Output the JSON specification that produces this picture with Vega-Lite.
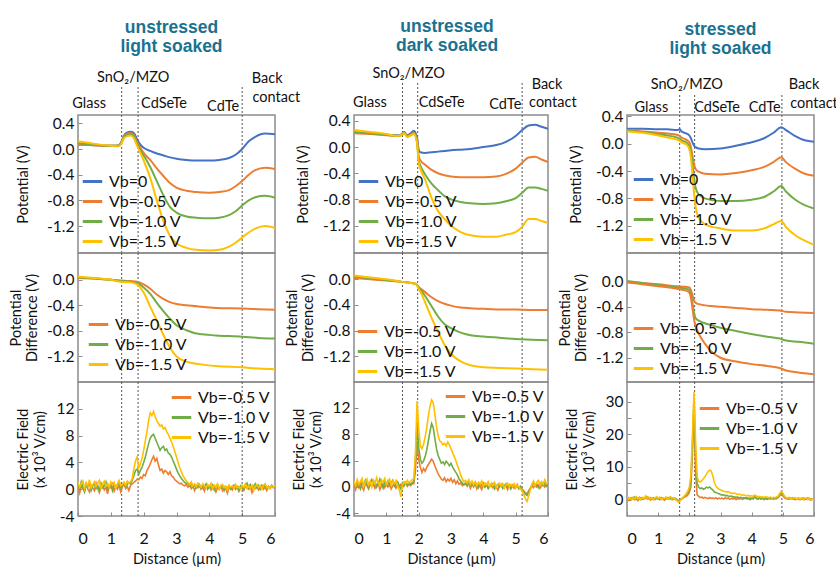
{
"$schema": "https://vega.github.io/schema/vega-lite/v6.json",
"background": "white",
"padding": {"left": 7, "top": 17, "right": 0, "bottom": 0},
"config": {
  "font": "Lato",
  "view": {"stroke": "#8c8c8c", "strokeWidth": 1.5},
  "axis": {"grid": false, "domain": false, "labelOverlap": false, "labelFont": "Lato", "labelFontSize": 15.5, "labelColor": "#111", "titleFont": "Lato", "titleFontSize": 14.5, "titleFontWeight": "normal", "titleColor": "#111", "tickColor": "#8c8c8c", "tickSize": -4, "labelPadding": 8},
  "axisX": {"labelFontSize": 16, "labelPadding": 18, "titlePadding": 6},
  "legend": {"symbolType": "stroke", "symbolStrokeWidth": 3, "symbolSize": 380, "labelFont": "Lato", "labelFontSize": 16, "labelColor": "#111", "rowPadding": 0, "padding": 0, "labelOffset": 5, "offset": 3},
  "title": {"font": "Liberation Sans", "fontSize": 17.5, "fontWeight": "bold", "color": "#1a7290", "lineHeight": 19, "frame": "group"},
  "text": {"font": "Lato", "fontSize": 14.5, "color": "#111"}
},
"columns": 3,
"bounds": "flush",
"align": "each",
"spacing": {"row": 0, "column": 79},
"resolve": {"scale": {"color": "independent"}, "legend": {"color": "independent"}},
"concat": [
 {
  "width": 197, "height": 138,
  "title": {"text": ["unstressed", "light soaked"], "dx": -5, "offset": 15},
  "encoding": {"x": {"field": "x", "type": "quantitative", "scale": {"domain": [0, 6], "nice": false, "zero": false}, "axis": null}},
  "layer": [
   {"data": {"name": "bounds1"}, "mark": {"type": "rule", "strokeDash": [2, 2], "color": "#555", "strokeWidth": 1},
    "encoding": {"y": {"datum": -1.62, "type": "quantitative", "scale": {"domain": [-1.62, 0.53], "nice": false, "zero": false}}, "y2": {"datum": 0.98}}},
   {"data": {"name": "A"}, "transform": [{"fold": ["a", "b", "c", "d"], "as": ["s", "v"]}],
    "mark": {"type": "line", "interpolate": "monotone", "strokeWidth": 2, "clip": true},
    "encoding": {
     "y": {"field": "v", "type": "quantitative", "scale": {"domain": [-1.62, 0.53], "nice": false, "zero": false}, "axis": {"title": "Potential (V)", "values": [0.4, 0, -0.4, -0.8, -1.2], "tickCount": 20, "labelOverlap": false, "labelExpr": "datum.value < 0 ? '-' + format(-datum.value, '.1f') : format(datum.value, '.1f')", "titlePadding": 16}},
     "color": {"field": "s", "type": "nominal", "scale": {"domain": ["a", "b", "c", "d"], "range": ["#4472C4", "#ED7D31", "#70AD47", "#FFC000"]}, "legend": {"title": null, "orient": "bottom-left", "offset": 3, "labelExpr": "datum.label == 'a' ? 'Vb=0' : datum.label == 'b' ? 'Vb=-0.5 V' : datum.label == 'c' ? 'Vb=-1.0 V' : 'Vb=-1.5 V'"}}
    }},
   {"data": {"values": [{}]}, "mark": {"type": "text", "align": "left", "baseline": "top", "fontSize": 15},
    "encoding": {"x": {"datum": 0.08}, "y": {"datum": 0.49, "scale": {"domain": [-1.62, 0.53], "nice": false, "zero": false}}, "text": {"value": "(a)"}}},
   {"data": {"name": "labels1"}, "mark": {"type": "text", "align": "center", "baseline": "alphabetic"},
    "encoding": {"y": {"field": "y", "type": "quantitative", "scale": {"domain": [-1.62, 0.53], "nice": false, "zero": false}}, "text": {"field": "label"}}},
   {"data": {"values": [{}]}, "mark": {"type": "rule", "color": "#4472C4", "strokeWidth": 1.2},
    "encoding": {"x": {"datum": 1.6}, "y": {"datum": 0.95, "scale": {"domain": [-1.62, 0.53], "nice": false, "zero": false}}, "y2": {"datum": 0.73}}},
   {"data": {"values": [{}]}, "mark": {"type": "point", "shape": "triangle-down", "filled": true, "color": "#4472C4", "size": 25, "opacity": 1},
    "encoding": {"x": {"datum": 1.6}, "y": {"datum": 0.72, "scale": {"domain": [-1.62, 0.53], "nice": false, "zero": false}}}}
  ]
 },
 {
  "width": 194, "height": 138,
  "title": {"text": ["unstressed", "dark soaked"], "dx": -4, "offset": 11},
  "encoding": {"x": {"field": "x", "type": "quantitative", "scale": {"domain": [0, 6], "nice": false, "zero": false}, "axis": null}},
  "layer": [
   {"data": {"name": "bounds2"}, "mark": {"type": "rule", "strokeDash": [2, 2], "color": "#555", "strokeWidth": 1},
    "encoding": {"y": {"datum": -1.62, "type": "quantitative", "scale": {"domain": [-1.62, 0.49], "nice": false, "zero": false}}, "y2": {"datum": 1.0}}},
   {"data": {"name": "D"}, "transform": [{"fold": ["a", "b", "c", "d"], "as": ["s", "v"]}],
    "mark": {"type": "line", "interpolate": "monotone", "strokeWidth": 2, "clip": true},
    "encoding": {
     "y": {"field": "v", "type": "quantitative", "scale": {"domain": [-1.62, 0.49], "nice": false, "zero": false}, "axis": {"title": "Potential (V)", "values": [0.4, 0, -0.4, -0.8, -1.2], "tickCount": 20, "labelOverlap": false, "labelExpr": "datum.value < 0 ? '-' + format(-datum.value, '.1f') : format(datum.value, '.1f')", "titlePadding": 12}},
     "color": {"field": "s", "type": "nominal", "scale": {"domain": ["a", "b", "c", "d"], "range": ["#4472C4", "#ED7D31", "#70AD47", "#FFC000"]}, "legend": {"title": null, "orient": "bottom-left", "offset": 3, "labelExpr": "datum.label == 'a' ? 'Vb=0' : datum.label == 'b' ? 'Vb=-0.5 V' : datum.label == 'c' ? 'Vb=-1.0 V' : 'Vb=-1.5 V'"}}
    }},
   {"data": {"values": [{}]}, "mark": {"type": "text", "align": "left", "baseline": "top", "fontSize": 15},
    "encoding": {"x": {"datum": 0.12}, "y": {"datum": 0.12, "scale": {"domain": [-1.62, 0.49], "nice": false, "zero": false}}, "text": {"value": "(d)"}}},
   {"data": {"name": "labels2"}, "mark": {"type": "text", "align": "center", "baseline": "alphabetic"},
    "encoding": {"y": {"field": "y", "type": "quantitative", "scale": {"domain": [-1.62, 0.49], "nice": false, "zero": false}}, "text": {"field": "label"}}},
   {"data": {"values": [{}]}, "mark": {"type": "rule", "color": "#4472C4", "strokeWidth": 1.2},
    "encoding": {"x": {"datum": 1.72}, "y": {"datum": 0.98, "scale": {"domain": [-1.62, 0.49], "nice": false, "zero": false}}, "y2": {"datum": 0.67}}},
   {"data": {"values": [{}]}, "mark": {"type": "point", "shape": "triangle-down", "filled": true, "color": "#4472C4", "size": 25, "opacity": 1},
    "encoding": {"x": {"datum": 1.72}, "y": {"datum": 0.66, "scale": {"domain": [-1.62, 0.49], "nice": false, "zero": false}}}}
  ]
 },
 {
  "width": 187, "height": 138,
  "title": {"text": ["stressed", "light soaked"], "offset": 20},
  "encoding": {"x": {"field": "x", "type": "quantitative", "scale": {"domain": [0, 6], "nice": false, "zero": false}, "axis": null}},
  "layer": [
   {"data": {"name": "bounds3"}, "mark": {"type": "rule", "strokeDash": [2, 2], "color": "#555", "strokeWidth": 1},
    "encoding": {"y": {"datum": -1.6, "type": "quantitative", "scale": {"domain": [-1.6, 0.42], "nice": false, "zero": false}}, "y2": {"datum": 0.73}}},
   {"data": {"name": "G"}, "transform": [{"fold": ["a", "b", "c", "d"], "as": ["s", "v"]}],
    "mark": {"type": "line", "interpolate": "monotone", "strokeWidth": 2, "clip": true},
    "encoding": {
     "y": {"field": "v", "type": "quantitative", "scale": {"domain": [-1.6, 0.42], "nice": false, "zero": false}, "axis": {"title": "Potential (V)", "values": [0.4, 0, -0.4, -0.8, -1.2], "tickCount": 20, "labelOverlap": false, "labelExpr": "datum.value < 0 ? '-' + format(-datum.value, '.1f') : format(datum.value, '.1f')", "titlePadding": 12}},
     "color": {"field": "s", "type": "nominal", "scale": {"domain": ["a", "b", "c", "d"], "range": ["#4472C4", "#ED7D31", "#70AD47", "#FFC000"]}, "legend": {"title": null, "orient": "bottom-left", "offset": 5, "labelExpr": "datum.label == 'a' ? 'Vb=0' : datum.label == 'b' ? 'Vb=-0.5 V' : datum.label == 'c' ? 'Vb=-1.0 V' : 'Vb=-1.5 V'"}}
    }},
   {"data": {"values": [{}]}, "mark": {"type": "text", "align": "left", "baseline": "top", "fontSize": 15},
    "encoding": {"x": {"datum": 0.25}, "y": {"datum": 0.05, "scale": {"domain": [-1.6, 0.42], "nice": false, "zero": false}}, "text": {"value": "(g)"}}},
   {"data": {"name": "labels3"}, "mark": {"type": "text", "align": "center", "baseline": "alphabetic"},
    "encoding": {"y": {"field": "y", "type": "quantitative", "scale": {"domain": [-1.6, 0.42], "nice": false, "zero": false}}, "text": {"field": "label"}}},
   {"data": {"values": [{}]}, "mark": {"type": "rule", "color": "#4472C4", "strokeWidth": 1.2},
    "encoding": {"x": {"datum": 1.87}, "y": {"datum": 0.71, "scale": {"domain": [-1.6, 0.42], "nice": false, "zero": false}}, "y2": {"datum": 0.5}}},
   {"data": {"values": [{}]}, "mark": {"type": "point", "shape": "triangle-down", "filled": true, "color": "#4472C4", "size": 25, "opacity": 1},
    "encoding": {"x": {"datum": 1.87}, "y": {"datum": 0.49, "scale": {"domain": [-1.6, 0.42], "nice": false, "zero": false}}}}
  ]
 },
 {
  "width": 197, "height": 129,
  "encoding": {"x": {"field": "x", "type": "quantitative", "scale": {"domain": [0, 6], "nice": false, "zero": false}, "axis": null}},
  "layer": [
   {"data": {"name": "bounds1"}, "mark": {"type": "rule", "strokeDash": [2, 2], "color": "#555", "strokeWidth": 1}},
   {"data": {"name": "B"}, "transform": [{"fold": ["b", "c", "d"], "as": ["s", "v"]}],
    "mark": {"type": "line", "interpolate": "monotone", "strokeWidth": 2, "clip": true},
    "encoding": {
     "y": {"field": "v", "type": "quantitative", "scale": {"domain": [-1.6, 0.42], "nice": false, "zero": false}, "axis": {"title": ["Potential", "Difference (V)"], "values": [0, -0.4, -0.8, -1.2], "tickCount": 20, "labelOverlap": false, "labelExpr": "datum.value < 0 ? '-' + format(-datum.value, '.1f') : format(datum.value, '.1f')", "titlePadding": 7}},
     "color": {"field": "s", "type": "nominal", "scale": {"domain": ["b", "c", "d"], "range": ["#ED7D31", "#70AD47", "#FFC000"]}, "legend": {"title": null, "orient": "bottom-left", "offset": 9, "labelExpr": "datum.label == 'a' ? 'Vb=0' : datum.label == 'b' ? 'Vb=-0.5 V' : datum.label == 'c' ? 'Vb=-1.0 V' : 'Vb=-1.5 V'"}}
    }},
   {"data": {"values": [{}]}, "mark": {"type": "text", "align": "left", "baseline": "top", "fontSize": 15},
    "encoding": {"x": {"datum": 0.08}, "y": {"datum": 0.33, "scale": {"domain": [-1.6, 0.42], "nice": false, "zero": false}}, "text": {"value": "(b)"}}}
  ]
 },
 {
  "width": 194, "height": 129,
  "encoding": {"x": {"field": "x", "type": "quantitative", "scale": {"domain": [0, 6], "nice": false, "zero": false}, "axis": null}},
  "layer": [
   {"data": {"name": "bounds2"}, "mark": {"type": "rule", "strokeDash": [2, 2], "color": "#555", "strokeWidth": 1}},
   {"data": {"name": "E"}, "transform": [{"fold": ["b", "c", "d"], "as": ["s", "v"]}],
    "mark": {"type": "line", "interpolate": "monotone", "strokeWidth": 2, "clip": true},
    "encoding": {
     "y": {"field": "v", "type": "quantitative", "scale": {"domain": [-1.6, 0.41], "nice": false, "zero": false}, "axis": {"title": ["Potential", "Difference (V)"], "values": [0, -0.4, -0.8, -1.2], "tickCount": 20, "labelOverlap": false, "labelExpr": "datum.value < 0 ? '-' + format(-datum.value, '.1f') : format(datum.value, '.1f')", "titlePadding": 7}},
     "color": {"field": "s", "type": "nominal", "scale": {"domain": ["b", "c", "d"], "range": ["#ED7D31", "#70AD47", "#FFC000"]}, "legend": {"title": null, "orient": "bottom-left", "offset": 2, "labelExpr": "datum.label == 'a' ? 'Vb=0' : datum.label == 'b' ? 'Vb=-0.5 V' : datum.label == 'c' ? 'Vb=-1.0 V' : 'Vb=-1.5 V'"}}
    }},
   {"data": {"values": [{}]}, "mark": {"type": "text", "align": "left", "baseline": "top", "fontSize": 15},
    "encoding": {"x": {"datum": 0.1}, "y": {"datum": 0.36, "scale": {"domain": [-1.6, 0.41], "nice": false, "zero": false}}, "text": {"value": "(e)"}}}
  ]
 },
 {
  "width": 187, "height": 129,
  "encoding": {"x": {"field": "x", "type": "quantitative", "scale": {"domain": [0, 6], "nice": false, "zero": false}, "axis": null}},
  "layer": [
   {"data": {"name": "bounds3"}, "mark": {"type": "rule", "strokeDash": [2, 2], "color": "#555", "strokeWidth": 1}},
   {"data": {"name": "H"}, "transform": [{"fold": ["b", "c"], "as": ["s", "v"]}],
    "mark": {"type": "line", "interpolate": "monotone", "strokeWidth": 2, "clip": true},
    "encoding": {
     "y": {"field": "v", "type": "quantitative", "scale": {"domain": [-1.58, 0.44], "nice": false, "zero": false}, "axis": {"title": ["Potential", "Difference (V)"], "values": [0, -0.4, -0.8, -1.2], "tickCount": 20, "labelOverlap": false, "labelExpr": "datum.value < 0 ? '-' + format(-datum.value, '.1f') : format(datum.value, '.1f')", "titlePadding": 7}},
     "color": {"field": "s", "type": "nominal", "scale": {"domain": ["b", "c", "d"], "range": ["#ED7D31", "#70AD47", "#FFC000"]}, "legend": {"title": null, "orient": "bottom-left", "offset": 5, "labelExpr": "datum.label == 'a' ? 'Vb=0' : datum.label == 'b' ? 'Vb=-0.5 V' : datum.label == 'c' ? 'Vb=-1.0 V' : 'Vb=-1.5 V'"}}
    }},
   {"data": {"name": "H"}, "mark": {"type": "line", "interpolate": "monotone", "strokeWidth": 2, "clip": true, "color": "#ED7D31"},
    "encoding": {"y": {"field": "d", "type": "quantitative", "scale": {"domain": [-1.58, 0.44], "nice": false, "zero": false}}}},
   {"data": {"values": [{}]}, "mark": {"type": "text", "align": "left", "baseline": "top", "fontSize": 15},
    "encoding": {"x": {"datum": 0.1}, "y": {"datum": 0.35, "scale": {"domain": [-1.58, 0.44], "nice": false, "zero": false}}, "text": {"value": "(h)"}}}
  ]
 },
 {
  "width": 197, "height": 134,
  "encoding": {"x": {"field": "x", "type": "quantitative", "scale": {"domain": [0, 6], "nice": false, "zero": false}, "axis": {"title": "Distance (µm)", "values": [0, 1, 2, 3, 4, 5, 6], "tickCount": 20, "labelOverlap": false, "format": "d"}}},
  "layer": [
   {"data": {"name": "bounds1"}, "mark": {"type": "rule", "strokeDash": [2, 2], "color": "#555", "strokeWidth": 1}},
   {"data": {"name": "C"}, "transform": [{"fold": ["b", "c", "d"], "as": ["s", "v"]}],
    "mark": {"type": "line", "strokeWidth": 1.6, "clip": true},
    "encoding": {
     "y": {"field": "v", "type": "quantitative", "scale": {"domain": [-4, 16], "nice": false, "zero": false}, "axis": {"title": ["Electric Field", "(x 10³ V/cm)"], "values": [-4, 0, 4, 8, 12], "tickCount": 20, "labelOverlap": false, "labelExpr": "datum.value < 0 ? '-' + format(-datum.value, 'd') : format(datum.value, 'd')", "titlePadding": 9}},
     "color": {"field": "s", "type": "nominal", "scale": {"domain": ["b", "c", "d"], "range": ["#ED7D31", "#70AD47", "#FFC000"]}, "legend": {"title": null, "orient": "top-right", "offset": 4, "labelExpr": "datum.label == 'a' ? 'Vb=0' : datum.label == 'b' ? 'Vb=-0.5 V' : datum.label == 'c' ? 'Vb=-1.0 V' : 'Vb=-1.5 V'"}}
    }},
   {"data": {"values": [{}]}, "mark": {"type": "text", "align": "left", "baseline": "top", "fontSize": 15},
    "encoding": {"x": {"datum": 0.08}, "y": {"datum": 15.2, "scale": {"domain": [-4, 16], "nice": false, "zero": false}}, "text": {"value": "(c)"}}}
  ]
 },
 {
  "width": 194, "height": 134,
  "encoding": {"x": {"field": "x", "type": "quantitative", "scale": {"domain": [0, 6], "nice": false, "zero": false}, "axis": {"title": "Distance (µm)", "values": [0, 1, 2, 3, 4, 5, 6], "tickCount": 20, "labelOverlap": false, "format": "d"}}},
  "layer": [
   {"data": {"name": "bounds2"}, "mark": {"type": "rule", "strokeDash": [2, 2], "color": "#555", "strokeWidth": 1}},
   {"data": {"name": "F"}, "transform": [{"fold": ["b", "c", "d"], "as": ["s", "v"]}],
    "mark": {"type": "line", "strokeWidth": 1.6, "clip": true},
    "encoding": {
     "y": {"field": "v", "type": "quantitative", "scale": {"domain": [-4.4, 15.9], "nice": false, "zero": false}, "axis": {"title": ["Electric Field", "(x 10³ V/cm)"], "values": [-4, 0, 4, 8, 12], "tickCount": 20, "labelOverlap": false, "labelExpr": "datum.value < 0 ? '-' + format(-datum.value, 'd') : format(datum.value, 'd')", "titlePadding": 9}},
     "color": {"field": "s", "type": "nominal", "scale": {"domain": ["b", "c", "d"], "range": ["#ED7D31", "#70AD47", "#FFC000"]}, "legend": {"title": null, "orient": "top-right", "offset": 3, "labelExpr": "datum.label == 'a' ? 'Vb=0' : datum.label == 'b' ? 'Vb=-0.5 V' : datum.label == 'c' ? 'Vb=-1.0 V' : 'Vb=-1.5 V'"}}
    }},
   {"data": {"values": [{}]}, "mark": {"type": "text", "align": "left", "baseline": "top", "fontSize": 15},
    "encoding": {"x": {"datum": 0.1}, "y": {"datum": 15.1, "scale": {"domain": [-4.4, 15.9], "nice": false, "zero": false}}, "text": {"value": "(f)"}}}
  ]
 },
 {
  "width": 187, "height": 134,
  "encoding": {"x": {"field": "x", "type": "quantitative", "scale": {"domain": [0, 6], "nice": false, "zero": false}, "axis": {"title": "Distance (µm)", "values": [0, 1, 2, 3, 4, 5, 6], "tickCount": 20, "labelOverlap": false, "format": "d"}}},
  "layer": [
   {"data": {"name": "bounds3"}, "mark": {"type": "rule", "strokeDash": [2, 2], "color": "#555", "strokeWidth": 1}},
   {"data": {"name": "I"}, "transform": [{"fold": ["b", "c", "d"], "as": ["s", "v"]}],
    "mark": {"type": "line", "strokeWidth": 1.6, "clip": true},
    "encoding": {
     "y": {"field": "v", "type": "quantitative", "scale": {"domain": [-5, 36], "nice": false, "zero": false}, "axis": {"title": ["Electric Field", "(x 10³ V/cm)"], "values": [0, 5, 10, 15, 20, 25, 30], "tickCount": 20, "labelOverlap": false, "labelExpr": "datum.value % 10 == 0 ? format(datum.value, 'd') : ''", "titlePadding": 9}},
     "color": {"field": "s", "type": "nominal", "scale": {"domain": ["b", "c", "d"], "range": ["#ED7D31", "#70AD47", "#FFC000"]}, "legend": {"title": null, "orient": "top-right", "offset": 15, "labelExpr": "datum.label == 'a' ? 'Vb=0' : datum.label == 'b' ? 'Vb=-0.5 V' : datum.label == 'c' ? 'Vb=-1.0 V' : 'Vb=-1.5 V'"}}
    }},
   {"data": {"values": [{}]}, "mark": {"type": "text", "align": "left", "baseline": "top", "fontSize": 15},
    "encoding": {"x": {"datum": 0.15}, "y": {"datum": 34.2, "scale": {"domain": [-5, 36], "nice": false, "zero": false}}, "text": {"value": "(i)"}}}
  ]
 }
],
"datasets": {
 "bounds1": [{"x": 1.33}, {"x": 1.83}, {"x": 5.0}],
 "bounds2": [{"x": 1.5}, {"x": 1.97}, {"x": 5.2}],
 "bounds3": [{"x": 1.69}, {"x": 2.17}, {"x": 4.97}],
 "labels1": [{"x": 0.34, "y": 0.64, "label": "Glass"}, {"x": 1.68, "y": 1.04, "label": "SnO₂/MZO"}, {"x": 2.62, "y": 0.64, "label": "CdSeTe"}, {"x": 4.42, "y": 0.59, "label": "CdTe"}, {"x": 5.76, "y": 1.03, "label": "Back"}, {"x": 6.04, "y": 0.73, "label": "contact"}],
 "labels2": [{"x": 0.49, "y": 0.61, "label": "Glass"}, {"x": 1.69, "y": 1.06, "label": "SnO₂/MZO"}, {"x": 2.71, "y": 0.61, "label": "CdSeTe"}, {"x": 4.68, "y": 0.58, "label": "CdTe"}, {"x": 5.97, "y": 0.89, "label": "Back"}, {"x": 6.15, "y": 0.61, "label": "contact"}],
 "labels3": [{"x": 0.78, "y": 0.46, "label": "Glass"}, {"x": 1.92, "y": 0.8, "label": "SnO₂/MZO"}, {"x": 2.89, "y": 0.46, "label": "CdSeTe"}, {"x": 4.42, "y": 0.46, "label": "CdTe"}, {"x": 5.68, "y": 0.8, "label": "Back"}, {"x": 6.0, "y": 0.52, "label": "contact"}],
 "A": [
  {"x": 0, "a": 0.07, "b": 0.07, "c": 0.09, "d": 0.12},
  {"x": 0.5, "a": 0.06, "b": 0.06, "c": 0.07, "d": 0.08},
  {"x": 1.0, "a": 0.05, "b": 0.05, "c": 0.05, "d": 0.05},
  {"x": 1.2, "a": 0.05, "b": 0.05, "c": 0.05, "d": 0.04},
  {"x": 1.3, "a": 0.09, "b": 0.08, "c": 0.08, "d": 0.07},
  {"x": 1.4, "a": 0.21, "b": 0.2, "c": 0.19, "d": 0.17},
  {"x": 1.5, "a": 0.26, "b": 0.24, "c": 0.22, "d": 0.2},
  {"x": 1.6, "a": 0.27, "b": 0.25, "c": 0.23, "d": 0.21},
  {"x": 1.7, "a": 0.25, "b": 0.22, "c": 0.2, "d": 0.17},
  {"x": 1.8, "a": 0.15, "b": 0.11, "c": 0.08, "d": 0.05},
  {"x": 1.9, "a": 0.07, "b": 0.02, "c": -0.02, "d": -0.06},
  {"x": 2.0, "a": 0.02, "b": -0.06, "c": -0.1, "d": -0.18},
  {"x": 2.2, "a": -0.03, "b": -0.17, "c": -0.28, "d": -0.45},
  {"x": 2.4, "a": -0.07, "b": -0.3, "c": -0.5, "d": -0.8},
  {"x": 2.6, "a": -0.1, "b": -0.42, "c": -0.72, "d": -1.12},
  {"x": 2.8, "a": -0.13, "b": -0.53, "c": -0.9, "d": -1.35},
  {"x": 3.0, "a": -0.15, "b": -0.6, "c": -0.99, "d": -1.47},
  {"x": 3.3, "a": -0.17, "b": -0.65, "c": -1.05, "d": -1.54},
  {"x": 3.6, "a": -0.18, "b": -0.67, "c": -1.07, "d": -1.57},
  {"x": 4.0, "a": -0.18, "b": -0.68, "c": -1.08, "d": -1.58},
  {"x": 4.3, "a": -0.17, "b": -0.67, "c": -1.07, "d": -1.57},
  {"x": 4.6, "a": -0.14, "b": -0.64, "c": -1.03, "d": -1.52},
  {"x": 4.8, "a": -0.09, "b": -0.58, "c": -0.97, "d": -1.46},
  {"x": 5.0, "a": 0.0, "b": -0.5, "c": -0.88, "d": -1.38},
  {"x": 5.2, "a": 0.12, "b": -0.4, "c": -0.8, "d": -1.3},
  {"x": 5.4, "a": 0.19, "b": -0.33, "c": -0.75, "d": -1.24},
  {"x": 5.7, "a": 0.24, "b": -0.29, "c": -0.73, "d": -1.2},
  {"x": 6.0, "a": 0.23, "b": -0.31, "c": -0.76, "d": -1.23}
 ],
 "D": [
  {"x": 0, "a": 0.22, "b": 0.21, "c": 0.23, "d": 0.26},
  {"x": 0.5, "a": 0.21, "b": 0.2, "c": 0.21, "d": 0.23},
  {"x": 1.0, "a": 0.19, "b": 0.18, "c": 0.19, "d": 0.2},
  {"x": 1.3, "a": 0.18, "b": 0.17, "c": 0.17, "d": 0.17},
  {"x": 1.45, "a": 0.19, "b": 0.18, "c": 0.18, "d": 0.18},
  {"x": 1.55, "a": 0.23, "b": 0.22, "c": 0.22, "d": 0.21},
  {"x": 1.65, "a": 0.18, "b": 0.17, "c": 0.16, "d": 0.15},
  {"x": 1.75, "a": 0.21, "b": 0.19, "c": 0.18, "d": 0.18},
  {"x": 1.85, "a": 0.25, "b": 0.22, "c": 0.21, "d": 0.2},
  {"x": 1.95, "a": 0.14, "b": 0.1, "c": 0.08, "d": 0.06},
  {"x": 2.0, "a": -0.04, "b": -0.14, "c": -0.2, "d": -0.24},
  {"x": 2.05, "a": -0.08, "b": -0.2, "c": -0.28, "d": -0.33},
  {"x": 2.2, "a": -0.09, "b": -0.27, "c": -0.42, "d": -0.5},
  {"x": 2.4, "a": -0.08, "b": -0.35, "c": -0.56, "d": -0.78},
  {"x": 2.6, "a": -0.07, "b": -0.4, "c": -0.66, "d": -0.98},
  {"x": 2.8, "a": -0.06, "b": -0.43, "c": -0.75, "d": -1.1},
  {"x": 3.0, "a": -0.05, "b": -0.45, "c": -0.8, "d": -1.2},
  {"x": 3.3, "a": -0.04, "b": -0.46, "c": -0.84, "d": -1.3},
  {"x": 3.6, "a": -0.03, "b": -0.46, "c": -0.86, "d": -1.35},
  {"x": 4.0, "a": 0.0, "b": -0.46, "c": -0.87, "d": -1.37},
  {"x": 4.4, "a": 0.03, "b": -0.45, "c": -0.86, "d": -1.37},
  {"x": 4.7, "a": 0.08, "b": -0.41, "c": -0.83, "d": -1.34},
  {"x": 5.0, "a": 0.17, "b": -0.33, "c": -0.78, "d": -1.3},
  {"x": 5.2, "a": 0.26, "b": -0.24, "c": -0.7, "d": -1.22},
  {"x": 5.4, "a": 0.33, "b": -0.16, "c": -0.62, "d": -1.1},
  {"x": 5.6, "a": 0.34, "b": -0.15, "c": -0.62, "d": -1.1},
  {"x": 5.8, "a": 0.31, "b": -0.19, "c": -0.64, "d": -1.13},
  {"x": 6.0, "a": 0.28, "b": -0.23, "c": -0.67, "d": -1.16}
 ],
 "G": [
  {"x": 0, "a": 0.22, "b": 0.2, "c": 0.19, "d": 0.18},
  {"x": 0.5, "a": 0.22, "b": 0.18, "c": 0.17, "d": 0.16},
  {"x": 1.0, "a": 0.21, "b": 0.16, "c": 0.14, "d": 0.12},
  {"x": 1.3, "a": 0.21, "b": 0.15, "c": 0.12, "d": 0.09},
  {"x": 1.6, "a": 0.2, "b": 0.13, "c": 0.09, "d": 0.06},
  {"x": 1.7, "a": 0.21, "b": 0.11, "c": 0.07, "d": 0.04},
  {"x": 1.75, "a": 0.18, "b": 0.09, "c": 0.05, "d": 0.02},
  {"x": 1.9, "a": 0.15, "b": 0.06, "c": 0.02, "d": -0.01},
  {"x": 2.0, "a": 0.12, "b": 0.02, "c": -0.04, "d": -0.08},
  {"x": 2.05, "a": 0.08, "b": -0.05, "c": -0.12, "d": -0.2},
  {"x": 2.1, "a": 0.02, "b": -0.18, "c": -0.3, "d": -0.45},
  {"x": 2.15, "a": -0.03, "b": -0.3, "c": -0.5, "d": -0.72},
  {"x": 2.2, "a": -0.05, "b": -0.37, "c": -0.64, "d": -0.92},
  {"x": 2.3, "a": -0.07, "b": -0.41, "c": -0.74, "d": -1.08},
  {"x": 2.5, "a": -0.08, "b": -0.44, "c": -0.8, "d": -1.18},
  {"x": 3.0, "a": -0.07, "b": -0.45, "c": -0.84, "d": -1.24},
  {"x": 3.5, "a": -0.03, "b": -0.43, "c": -0.84, "d": -1.27},
  {"x": 4.0, "a": 0.02, "b": -0.39, "c": -0.82, "d": -1.27},
  {"x": 4.4, "a": 0.08, "b": -0.34, "c": -0.78, "d": -1.24},
  {"x": 4.7, "a": 0.16, "b": -0.27, "c": -0.7, "d": -1.18},
  {"x": 4.95, "a": 0.24, "b": -0.2, "c": -0.62, "d": -1.13},
  {"x": 5.1, "a": 0.2, "b": -0.27, "c": -0.7, "d": -1.22},
  {"x": 5.4, "a": 0.11, "b": -0.37, "c": -0.82, "d": -1.34},
  {"x": 5.7, "a": 0.05, "b": -0.44, "c": -0.9, "d": -1.42},
  {"x": 6.0, "a": 0.03, "b": -0.47, "c": -0.95, "d": -1.48}
 ],
 "B": [
  {"x": 0, "b": 0.03, "c": 0.04, "d": 0.05},
  {"x": 0.5, "b": 0.02, "c": 0.02, "d": 0.03},
  {"x": 1.0, "b": 0.0, "c": 0.0, "d": 0.0},
  {"x": 1.3, "b": -0.01, "c": -0.02, "d": -0.03},
  {"x": 1.6, "b": -0.02, "c": -0.03, "d": -0.04},
  {"x": 1.8, "b": -0.03, "c": -0.05, "d": -0.07},
  {"x": 2.0, "b": -0.07, "c": -0.12, "d": -0.2},
  {"x": 2.2, "b": -0.14, "c": -0.22, "d": -0.42},
  {"x": 2.4, "b": -0.23, "c": -0.36, "d": -0.64},
  {"x": 2.6, "b": -0.3, "c": -0.49, "d": -0.86},
  {"x": 2.8, "b": -0.35, "c": -0.61, "d": -1.06},
  {"x": 3.0, "b": -0.38, "c": -0.71, "d": -1.2},
  {"x": 3.3, "b": -0.4, "c": -0.79, "d": -1.28},
  {"x": 3.7, "b": -0.42, "c": -0.85, "d": -1.32},
  {"x": 4.2, "b": -0.44, "c": -0.87, "d": -1.35},
  {"x": 5.0, "b": -0.45, "c": -0.89, "d": -1.37},
  {"x": 5.5, "b": -0.46, "c": -0.91, "d": -1.39},
  {"x": 6.0, "b": -0.47, "c": -0.92, "d": -1.4}
 ],
 "E": [
  {"x": 0, "b": 0.02, "c": 0.04, "d": 0.06},
  {"x": 0.5, "b": 0.0, "c": 0.02, "d": 0.03},
  {"x": 1.0, "b": -0.02, "c": -0.01, "d": 0.0},
  {"x": 1.5, "b": -0.04, "c": -0.04, "d": -0.04},
  {"x": 1.9, "b": -0.07, "c": -0.07, "d": -0.07},
  {"x": 1.95, "b": -0.09, "c": -0.09, "d": -0.1},
  {"x": 2.0, "b": -0.12, "c": -0.13, "d": -0.15},
  {"x": 2.1, "b": -0.16, "c": -0.19, "d": -0.24},
  {"x": 2.2, "b": -0.2, "c": -0.26, "d": -0.36},
  {"x": 2.4, "b": -0.28, "c": -0.42, "d": -0.6},
  {"x": 2.6, "b": -0.34, "c": -0.58, "d": -0.82},
  {"x": 2.8, "b": -0.38, "c": -0.7, "d": -1.02},
  {"x": 3.0, "b": -0.41, "c": -0.76, "d": -1.16},
  {"x": 3.3, "b": -0.44, "c": -0.83, "d": -1.28},
  {"x": 3.6, "b": -0.45, "c": -0.87, "d": -1.34},
  {"x": 4.0, "b": -0.46, "c": -0.89, "d": -1.37},
  {"x": 4.5, "b": -0.47, "c": -0.91, "d": -1.38},
  {"x": 5.0, "b": -0.47, "c": -0.93, "d": -1.39},
  {"x": 5.5, "b": -0.48, "c": -0.94, "d": -1.4},
  {"x": 6.0, "b": -0.48, "c": -0.95, "d": -1.41}
 ],
 "H": [
  {"x": 0, "b": -0.01, "c": 0.0, "d": -0.02},
  {"x": 0.5, "b": -0.03, "c": -0.03, "d": -0.05},
  {"x": 1.0, "b": -0.05, "c": -0.06, "d": -0.08},
  {"x": 1.6, "b": -0.08, "c": -0.1, "d": -0.12},
  {"x": 1.9, "b": -0.09, "c": -0.12, "d": -0.15},
  {"x": 2.0, "b": -0.1, "c": -0.14, "d": -0.18},
  {"x": 2.05, "b": -0.14, "c": -0.2, "d": -0.26},
  {"x": 2.1, "b": -0.22, "c": -0.34, "d": -0.42},
  {"x": 2.15, "b": -0.3, "c": -0.5, "d": -0.6},
  {"x": 2.2, "b": -0.34, "c": -0.58, "d": -0.7},
  {"x": 2.3, "b": -0.36, "c": -0.62, "d": -0.82},
  {"x": 2.5, "b": -0.38, "c": -0.66, "d": -0.98},
  {"x": 2.7, "b": -0.39, "c": -0.69, "d": -1.1},
  {"x": 3.0, "b": -0.4, "c": -0.73, "d": -1.2},
  {"x": 3.5, "b": -0.42, "c": -0.78, "d": -1.26},
  {"x": 4.0, "b": -0.44, "c": -0.83, "d": -1.3},
  {"x": 4.5, "b": -0.45, "c": -0.87, "d": -1.33},
  {"x": 4.9, "b": -0.46, "c": -0.9, "d": -1.36},
  {"x": 5.1, "b": -0.48, "c": -0.93, "d": -1.4},
  {"x": 5.5, "b": -0.49, "c": -0.95, "d": -1.43},
  {"x": 6.0, "b": -0.5, "c": -0.98, "d": -1.46}
 ],
 "C": [
  {"x": 0, "b": 0.2, "c": 0.6, "d": 1.0}, {"x": 0.05, "b": -0.6, "c": 0.0, "d": 0.3}, {"x": 0.1, "b": 0.5, "c": 1.1, "d": 0.8}, {"x": 0.15, "b": 0.1, "c": 0.3, "d": 1.2}, {"x": 0.2, "b": -0.3, "c": -0.4, "d": 0.1},
  {"x": 0.25, "b": 0.8, "c": 0.7, "d": 0.9}, {"x": 0.3, "b": 0.0, "c": 0.4, "d": 0.5}, {"x": 0.35, "b": -0.4, "c": 1.0, "d": 1.4}, {"x": 0.4, "b": 0.6, "c": -0.2, "d": 0.2}, {"x": 0.45, "b": 0.2, "c": 0.5, "d": 0.7},
  {"x": 0.5, "b": -0.2, "c": 0.8, "d": 1.1}, {"x": 0.55, "b": 0.9, "c": 0.1, "d": 0.4}, {"x": 0.6, "b": 0.1, "c": 0.6, "d": 0.9}, {"x": 0.65, "b": -0.5, "c": -0.3, "d": 1.3}, {"x": 0.7, "b": 0.4, "c": 0.9, "d": 0.0},
  {"x": 0.75, "b": 0.7, "c": 0.2, "d": 0.8}, {"x": 0.8, "b": -0.1, "c": 0.5, "d": 1.2}, {"x": 0.85, "b": 0.3, "c": 1.1, "d": 0.5}, {"x": 0.9, "b": -0.7, "c": 0.0, "d": 0.9}, {"x": 0.95, "b": 0.5, "c": 0.4, "d": 0.3},
  {"x": 1.0, "b": 0.2, "c": 0.7, "d": 1.1}, {"x": 1.05, "b": 0.8, "c": -0.2, "d": 0.6}, {"x": 1.1, "b": -0.3, "c": 0.8, "d": 1.0}, {"x": 1.15, "b": 0.4, "c": 0.3, "d": 0.2}, {"x": 1.2, "b": 0.0, "c": 0.6, "d": 0.8},
  {"x": 1.25, "b": 0.6, "c": 1.0, "d": 1.3}, {"x": 1.3, "b": -0.4, "c": 0.2, "d": 0.5}, {"x": 1.35, "b": 0.3, "c": 0.5, "d": 0.7}, {"x": 1.4, "b": 0.9, "c": 0.9, "d": 1.0}, {"x": 1.45, "b": 0.1, "c": 0.4, "d": 0.6},
  {"x": 1.5, "b": 0.4, "c": 0.7, "d": 1.2}, {"x": 1.55, "b": -0.2, "c": 1.0, "d": 0.9}, {"x": 1.6, "b": 0.6, "c": 0.8, "d": 1.1}, {"x": 1.65, "b": 0.8, "c": 1.3, "d": 1.6}, {"x": 1.7, "b": 1.0, "c": 2.0, "d": 3.0},
  {"x": 1.75, "b": 1.2, "c": 2.8, "d": 4.2}, {"x": 1.8, "b": 1.5, "c": 3.0, "d": 4.8}, {"x": 1.85, "b": 1.4, "c": 2.2, "d": 3.2}, {"x": 1.9, "b": 1.8, "c": 2.8, "d": 3.8}, {"x": 1.95, "b": 1.6, "c": 3.3, "d": 4.6},
  {"x": 2.0, "b": 2.2, "c": 4.0, "d": 5.8}, {"x": 2.05, "b": 2.0, "c": 4.8, "d": 7.2}, {"x": 2.1, "b": 2.8, "c": 5.8, "d": 8.6}, {"x": 2.15, "b": 3.2, "c": 6.8, "d": 10.2}, {"x": 2.2, "b": 3.8, "c": 7.6, "d": 11.4},
  {"x": 2.25, "b": 4.4, "c": 8.0, "d": 11.0}, {"x": 2.3, "b": 4.9, "c": 8.2, "d": 11.6}, {"x": 2.35, "b": 4.2, "c": 7.6, "d": 10.8}, {"x": 2.4, "b": 4.6, "c": 7.0, "d": 10.2}, {"x": 2.45, "b": 3.6, "c": 6.4, "d": 9.8},
  {"x": 2.5, "b": 2.8, "c": 5.8, "d": 9.4}, {"x": 2.55, "b": 3.0, "c": 6.2, "d": 9.6}, {"x": 2.6, "b": 2.4, "c": 6.4, "d": 9.0}, {"x": 2.65, "b": 2.8, "c": 5.8, "d": 9.2}, {"x": 2.7, "b": 2.6, "c": 6.0, "d": 8.6},
  {"x": 2.75, "b": 2.2, "c": 5.4, "d": 8.2}, {"x": 2.8, "b": 2.6, "c": 5.2, "d": 7.6}, {"x": 2.85, "b": 2.0, "c": 4.8, "d": 7.0}, {"x": 2.9, "b": 1.8, "c": 4.2, "d": 6.4}, {"x": 2.95, "b": 1.4, "c": 3.6, "d": 5.6},
  {"x": 3.0, "b": 1.2, "c": 3.0, "d": 4.8}, {"x": 3.05, "b": 1.0, "c": 2.4, "d": 4.0}, {"x": 3.1, "b": 0.8, "c": 2.0, "d": 3.2}, {"x": 3.15, "b": 0.9, "c": 1.6, "d": 2.6}, {"x": 3.2, "b": 0.6, "c": 1.3, "d": 2.0},
  {"x": 3.25, "b": 0.5, "c": 1.0, "d": 1.6}, {"x": 3.3, "b": 0.7, "c": 0.9, "d": 1.2}, {"x": 3.35, "b": 0.3, "c": 0.8, "d": 1.0}, {"x": 3.4, "b": 0.6, "c": 0.5, "d": 0.7}, {"x": 3.45, "b": 0.1, "c": 0.9, "d": 1.1},
  {"x": 3.5, "b": 0.5, "c": 0.3, "d": 0.5}, {"x": 3.55, "b": -0.2, "c": 0.6, "d": 0.8}, {"x": 3.6, "b": 0.4, "c": 0.2, "d": 0.4}, {"x": 3.65, "b": 0.2, "c": 0.7, "d": 0.9}, {"x": 3.7, "b": 0.7, "c": 0.4, "d": 0.6},
  {"x": 3.75, "b": 0.0, "c": 0.1, "d": 0.3}, {"x": 3.8, "b": 0.3, "c": 0.6, "d": 0.8}, {"x": 3.85, "b": -0.3, "c": 0.3, "d": 0.5}, {"x": 3.9, "b": 0.5, "c": 0.8, "d": 0.2}, {"x": 3.95, "b": 0.1, "c": 0.0, "d": 0.7},
  {"x": 4.0, "b": 0.4, "c": 0.5, "d": 0.4}, {"x": 4.05, "b": -0.1, "c": 0.2, "d": 0.9}, {"x": 4.1, "b": 0.6, "c": 0.6, "d": 0.1}, {"x": 4.15, "b": 0.2, "c": -0.1, "d": 0.6}, {"x": 4.2, "b": -0.4, "c": 0.4, "d": 0.3},
  {"x": 4.25, "b": 0.3, "c": 0.7, "d": 0.8}, {"x": 4.3, "b": 0.0, "c": 0.1, "d": 0.0}, {"x": 4.35, "b": 0.5, "c": 0.3, "d": 0.5}, {"x": 4.4, "b": -0.2, "c": 0.6, "d": 0.7}, {"x": 4.45, "b": 0.4, "c": -0.2, "d": 0.2},
  {"x": 4.5, "b": 0.1, "c": 0.4, "d": 0.4}, {"x": 4.55, "b": -0.6, "c": 0.2, "d": -0.1}, {"x": 4.6, "b": 0.3, "c": 0.5, "d": 0.6}, {"x": 4.65, "b": 0.2, "c": 0.0, "d": 0.3}, {"x": 4.7, "b": -0.1, "c": 0.3, "d": 0.5},
  {"x": 4.75, "b": 0.5, "c": 0.6, "d": 0.1}, {"x": 4.8, "b": 0.0, "c": 0.1, "d": 0.7}, {"x": 4.85, "b": 0.3, "c": 0.4, "d": 0.2}, {"x": 4.9, "b": -0.3, "c": -0.2, "d": 0.4}, {"x": 4.95, "b": 0.4, "c": 0.5, "d": 0.0},
  {"x": 5.0, "b": 0.1, "c": 0.2, "d": 0.6}, {"x": 5.05, "b": -0.2, "c": 0.0, "d": 0.3}, {"x": 5.1, "b": 0.6, "c": 0.6, "d": 0.8}, {"x": 5.15, "b": 0.2, "c": 0.9, "d": 0.1}, {"x": 5.2, "b": 0.0, "c": 0.3, "d": 0.5},
  {"x": 5.25, "b": 0.4, "c": 0.7, "d": 0.2}, {"x": 5.3, "b": -0.5, "c": 0.1, "d": 0.6}, {"x": 5.35, "b": 0.3, "c": 0.4, "d": -0.2}, {"x": 5.4, "b": 0.1, "c": 0.8, "d": 0.4}, {"x": 5.45, "b": 0.5, "c": 0.2, "d": 0.7},
  {"x": 5.5, "b": -0.1, "c": 0.6, "d": 0.3}, {"x": 5.55, "b": 0.2, "c": 0.0, "d": 0.5}, {"x": 5.6, "b": 0.6, "c": 0.5, "d": 0.0}, {"x": 5.65, "b": 0.0, "c": 0.3, "d": 0.6}, {"x": 5.7, "b": 0.3, "c": 0.7, "d": 0.8},
  {"x": 5.75, "b": -0.2, "c": 0.1, "d": 0.2}, {"x": 5.8, "b": 0.4, "c": 0.4, "d": 0.4}, {"x": 5.85, "b": 0.1, "c": 0.2, "d": 0.1}, {"x": 5.9, "b": 0.5, "c": 0.6, "d": 0.5}, {"x": 5.95, "b": 0.2, "c": 0.3, "d": 0.3},
  {"x": 6.0, "b": 0.3, "c": 0.5, "d": 0.6}
 ],
 "F": [
  {"x": 0, "b": 0.3, "c": 0.5, "d": 0.9}, {"x": 0.05, "b": -0.4, "c": 0.1, "d": 0.2}, {"x": 0.1, "b": 0.4, "c": 0.9, "d": 1.1}, {"x": 0.15, "b": -0.1, "c": 0.3, "d": 0.4}, {"x": 0.2, "b": 0.6, "c": -0.3, "d": 0.8},
  {"x": 0.25, "b": 0.0, "c": 0.7, "d": 1.3}, {"x": 0.3, "b": -0.5, "c": 0.2, "d": 0.1}, {"x": 0.35, "b": 0.5, "c": 1.0, "d": 0.7}, {"x": 0.4, "b": 0.2, "c": 0.4, "d": 1.2}, {"x": 0.45, "b": -0.3, "c": -0.1, "d": 0.3},
  {"x": 0.5, "b": 0.4, "c": 0.6, "d": 0.9}, {"x": 0.55, "b": 0.1, "c": 1.1, "d": 0.0}, {"x": 0.6, "b": 0.7, "c": 0.3, "d": 1.0}, {"x": 0.65, "b": -0.2, "c": 0.8, "d": 0.5}, {"x": 0.7, "b": 0.3, "c": 0.0, "d": 1.4},
  {"x": 0.75, "b": 0.6, "c": 0.5, "d": 0.6}, {"x": 0.8, "b": -0.4, "c": 1.2, "d": 0.2}, {"x": 0.85, "b": 0.2, "c": 0.4, "d": 1.1}, {"x": 0.9, "b": 0.5, "c": -0.2, "d": 0.7}, {"x": 0.95, "b": -0.1, "c": 0.7, "d": 1.3},
  {"x": 1.0, "b": 0.4, "c": 0.3, "d": 0.4}, {"x": 1.05, "b": 0.0, "c": 0.9, "d": 0.8}, {"x": 1.1, "b": 0.6, "c": 0.2, "d": 1.2}, {"x": 1.15, "b": -0.3, "c": 0.6, "d": 0.3}, {"x": 1.2, "b": 0.2, "c": 1.0, "d": 0.9},
  {"x": 1.25, "b": 0.5, "c": 0.1, "d": 0.5}, {"x": 1.3, "b": -0.2, "c": 0.5, "d": 1.0}, {"x": 1.35, "b": 0.3, "c": 0.8, "d": 0.2}, {"x": 1.4, "b": 0.0, "c": 0.2, "d": -0.4}, {"x": 1.45, "b": 0.4, "c": -0.3, "d": -1.5},
  {"x": 1.5, "b": -0.1, "c": 0.6, "d": 0.3}, {"x": 1.55, "b": 0.3, "c": 0.2, "d": 0.8}, {"x": 1.6, "b": 0.5, "c": 0.7, "d": 0.5}, {"x": 1.65, "b": 0.1, "c": 0.3, "d": 1.0}, {"x": 1.7, "b": 0.4, "c": 0.6, "d": 0.6},
  {"x": 1.75, "b": 0.2, "c": 0.4, "d": 0.9}, {"x": 1.8, "b": 0.5, "c": 0.7, "d": 1.1}, {"x": 1.85, "b": 0.5, "c": 0.8, "d": 1.2}, {"x": 1.9, "b": 2.5, "c": 4.0, "d": 5.0}, {"x": 1.95, "b": 7.0, "c": 10.0, "d": 13.0},
  {"x": 2.0, "b": 4.2, "c": 6.0, "d": 9.0}, {"x": 2.05, "b": 3.0, "c": 4.2, "d": 6.2}, {"x": 2.1, "b": 2.2, "c": 3.6, "d": 5.8}, {"x": 2.15, "b": 2.8, "c": 3.9, "d": 6.4}, {"x": 2.2, "b": 2.4, "c": 4.6, "d": 7.6},
  {"x": 2.25, "b": 3.0, "c": 5.6, "d": 9.0}, {"x": 2.3, "b": 3.4, "c": 7.0, "d": 10.8}, {"x": 2.35, "b": 3.8, "c": 8.4, "d": 12.2}, {"x": 2.4, "b": 4.2, "c": 9.6, "d": 13.2}, {"x": 2.45, "b": 3.9, "c": 9.0, "d": 12.8},
  {"x": 2.5, "b": 3.2, "c": 7.4, "d": 11.0}, {"x": 2.55, "b": 2.6, "c": 5.8, "d": 9.2}, {"x": 2.6, "b": 2.0, "c": 4.8, "d": 7.8}, {"x": 2.65, "b": 1.6, "c": 4.2, "d": 7.0}, {"x": 2.7, "b": 1.2, "c": 3.6, "d": 6.8},
  {"x": 2.75, "b": 1.0, "c": 3.8, "d": 6.4}, {"x": 2.8, "b": 1.4, "c": 3.4, "d": 6.6}, {"x": 2.85, "b": 0.8, "c": 3.9, "d": 6.2}, {"x": 2.9, "b": 1.2, "c": 3.6, "d": 6.8}, {"x": 2.95, "b": 0.9, "c": 3.2, "d": 6.4},
  {"x": 3.0, "b": 1.3, "c": 3.6, "d": 5.8}, {"x": 3.05, "b": 0.7, "c": 3.0, "d": 5.2}, {"x": 3.1, "b": 1.1, "c": 2.6, "d": 4.6}, {"x": 3.15, "b": 0.5, "c": 2.2, "d": 4.0}, {"x": 3.2, "b": 0.9, "c": 1.8, "d": 3.2},
  {"x": 3.25, "b": 0.4, "c": 1.2, "d": 2.6}, {"x": 3.3, "b": 0.6, "c": 0.9, "d": 1.8}, {"x": 3.35, "b": 0.2, "c": 0.6, "d": 1.2}, {"x": 3.4, "b": 0.4, "c": 0.3, "d": 0.8}, {"x": 3.45, "b": 0.5, "c": 0.6, "d": 1.0},
  {"x": 3.5, "b": 0.1, "c": 0.3, "d": 0.6}, {"x": 3.55, "b": 0.6, "c": 0.8, "d": 1.1}, {"x": 3.6, "b": -0.2, "c": 0.2, "d": 0.4}, {"x": 3.65, "b": 0.4, "c": 0.6, "d": 0.9}, {"x": 3.7, "b": 0.0, "c": 0.1, "d": 0.3},
  {"x": 3.75, "b": 0.5, "c": 0.7, "d": 0.8}, {"x": 3.8, "b": -0.3, "c": 0.3, "d": 0.2}, {"x": 3.85, "b": 0.3, "c": -0.1, "d": 0.7}, {"x": 3.9, "b": 0.1, "c": 0.5, "d": 0.4}, {"x": 3.95, "b": -0.4, "c": 0.2, "d": 0.9},
  {"x": 4.0, "b": 0.4, "c": 0.6, "d": 0.1}, {"x": 4.05, "b": 0.0, "c": 0.0, "d": 0.6}, {"x": 4.1, "b": 0.3, "c": 0.4, "d": 0.3}, {"x": 4.15, "b": -0.2, "c": -0.2, "d": 0.8}, {"x": 4.2, "b": 0.2, "c": 0.3, "d": 0.0},
  {"x": 4.25, "b": 0.5, "c": 0.1, "d": 0.5}, {"x": 4.3, "b": -0.1, "c": 0.5, "d": 0.2}, {"x": 4.35, "b": 0.3, "c": -0.3, "d": 0.7}, {"x": 4.4, "b": 0.0, "c": 0.2, "d": -0.1}, {"x": 4.45, "b": -0.5, "c": 0.4, "d": 0.4},
  {"x": 4.5, "b": 0.2, "c": 0.0, "d": 0.6}, {"x": 4.55, "b": 0.4, "c": 0.3, "d": 0.1}, {"x": 4.6, "b": -0.2, "c": -0.2, "d": 0.5}, {"x": 4.65, "b": 0.1, "c": 0.2, "d": -0.2}, {"x": 4.7, "b": 0.3, "c": 0.5, "d": 0.3},
  {"x": 4.75, "b": -0.4, "c": 0.0, "d": 0.6}, {"x": 4.8, "b": 0.2, "c": 0.3, "d": 0.0}, {"x": 4.85, "b": 0.0, "c": -0.3, "d": 0.4}, {"x": 4.9, "b": 0.3, "c": 0.2, "d": 0.1}, {"x": 4.95, "b": -0.2, "c": 0.4, "d": 0.5},
  {"x": 5.0, "b": 0.1, "c": -0.1, "d": -0.2}, {"x": 5.05, "b": 0.4, "c": 0.2, "d": 0.3}, {"x": 5.1, "b": -0.3, "c": -0.2, "d": 0.0}, {"x": 5.15, "b": 0.0, "c": 0.1, "d": -0.3}, {"x": 5.2, "b": -0.4, "c": -0.4, "d": -0.6},
  {"x": 5.25, "b": -0.6, "c": -0.7, "d": -1.2}, {"x": 5.3, "b": -0.9, "c": -1.1, "d": -1.8}, {"x": 5.35, "b": -1.0, "c": -1.3, "d": -2.2}, {"x": 5.4, "b": -0.6, "c": -0.8, "d": -1.4}, {"x": 5.45, "b": -0.2, "c": -0.3, "d": -0.5},
  {"x": 5.5, "b": 0.2, "c": 0.3, "d": 0.4}, {"x": 5.55, "b": -0.1, "c": 0.6, "d": 0.9}, {"x": 5.6, "b": 0.4, "c": 0.1, "d": 0.2}, {"x": 5.65, "b": 0.0, "c": 0.5, "d": 0.7}, {"x": 5.7, "b": 0.3, "c": -0.1, "d": 1.0},
  {"x": 5.75, "b": -0.2, "c": 0.4, "d": 0.3}, {"x": 5.8, "b": 0.2, "c": 0.7, "d": 0.8}, {"x": 5.85, "b": 0.5, "c": 0.2, "d": 0.4}, {"x": 5.9, "b": 0.0, "c": 0.6, "d": 1.1}, {"x": 5.95, "b": 0.3, "c": 0.1, "d": 0.5},
  {"x": 6.0, "b": 0.1, "c": 0.4, "d": 0.7}
 ],
 "I": [
  {"x": 0, "b": 0.5, "c": 0.3, "d": 0.8}, {"x": 0.05, "b": -0.2, "c": 0.6, "d": 0.2}, {"x": 0.1, "b": 0.4, "c": 0.0, "d": 0.6}, {"x": 0.15, "b": 0.1, "c": 0.5, "d": -0.1}, {"x": 0.2, "b": 0.7, "c": 0.2, "d": 0.5},
  {"x": 0.25, "b": 0.0, "c": 0.8, "d": 0.3}, {"x": 0.3, "b": 0.5, "c": 0.1, "d": 0.9}, {"x": 0.35, "b": -0.3, "c": 0.4, "d": 0.2}, {"x": 0.4, "b": 0.3, "c": 0.7, "d": 0.6}, {"x": 0.45, "b": 0.6, "c": 0.0, "d": 0.1},
  {"x": 0.5, "b": 0.1, "c": 0.5, "d": 0.7}, {"x": 0.55, "b": 0.4, "c": 0.2, "d": 0.3}, {"x": 0.6, "b": 0.9, "c": 0.6, "d": 1.2}, {"x": 0.65, "b": 0.2, "c": 0.9, "d": 0.5}, {"x": 0.7, "b": 0.5, "c": 0.3, "d": 0.8},
  {"x": 0.75, "b": -0.1, "c": 0.6, "d": 0.2}, {"x": 0.8, "b": 0.3, "c": 0.1, "d": 0.6}, {"x": 0.85, "b": 0.6, "c": 0.5, "d": 0.0}, {"x": 0.9, "b": 0.0, "c": 0.2, "d": 0.5}, {"x": 0.95, "b": 0.4, "c": 0.7, "d": 0.9},
  {"x": 1.0, "b": 0.2, "c": 0.3, "d": 0.4}, {"x": 1.05, "b": 0.7, "c": 0.0, "d": 0.7}, {"x": 1.1, "b": 0.1, "c": 0.6, "d": 0.1}, {"x": 1.15, "b": 0.5, "c": 0.4, "d": 0.6}, {"x": 1.2, "b": -0.2, "c": 0.1, "d": 0.3},
  {"x": 1.25, "b": 0.3, "c": 0.5, "d": 0.8}, {"x": 1.3, "b": 0.6, "c": 0.2, "d": 0.2}, {"x": 1.35, "b": 0.2, "c": 0.7, "d": 0.5}, {"x": 1.4, "b": 0.5, "c": 0.3, "d": 0.9}, {"x": 1.45, "b": 0.0, "c": 0.5, "d": 0.3},
  {"x": 1.5, "b": 0.4, "c": 0.1, "d": 0.6}, {"x": 1.55, "b": 0.2, "c": 0.4, "d": 0.1}, {"x": 1.6, "b": -0.1, "c": 0.0, "d": -0.3}, {"x": 1.65, "b": -0.4, "c": -0.5, "d": -0.8}, {"x": 1.7, "b": 0.0, "c": -0.2, "d": -0.4},
  {"x": 1.75, "b": 0.3, "c": 0.2, "d": 0.1}, {"x": 1.8, "b": 0.5, "c": 0.6, "d": 0.7}, {"x": 1.85, "b": 0.8, "c": 1.0, "d": 1.2}, {"x": 1.9, "b": 1.0, "c": 1.5, "d": 1.8}, {"x": 1.95, "b": 1.4, "c": 2.0, "d": 2.6},
  {"x": 2.0, "b": 2.2, "c": 3.0, "d": 3.8}, {"x": 2.05, "b": 4.0, "c": 6.0, "d": 7.5}, {"x": 2.1, "b": 14.0, "c": 17.0, "d": 20.0}, {"x": 2.15, "b": 28.0, "c": 31.0, "d": 33.0}, {"x": 2.2, "b": 8.0, "c": 14.0, "d": 18.0},
  {"x": 2.25, "b": 1.5, "c": 5.0, "d": 7.0}, {"x": 2.3, "b": 1.0, "c": 3.8, "d": 5.6}, {"x": 2.35, "b": 0.6, "c": 3.4, "d": 5.4}, {"x": 2.4, "b": 0.8, "c": 3.6, "d": 5.8}, {"x": 2.45, "b": 0.4, "c": 3.2, "d": 6.4},
  {"x": 2.5, "b": 0.7, "c": 3.4, "d": 7.0}, {"x": 2.55, "b": 0.5, "c": 3.8, "d": 7.8}, {"x": 2.6, "b": 0.3, "c": 3.6, "d": 8.6}, {"x": 2.65, "b": 0.6, "c": 3.9, "d": 9.0}, {"x": 2.7, "b": 0.4, "c": 3.4, "d": 8.8},
  {"x": 2.75, "b": 0.5, "c": 3.0, "d": 7.4}, {"x": 2.8, "b": 0.3, "c": 2.4, "d": 5.4}, {"x": 2.85, "b": 0.6, "c": 2.2, "d": 4.2}, {"x": 2.9, "b": 0.2, "c": 2.0, "d": 3.6}, {"x": 2.95, "b": 0.5, "c": 1.8, "d": 3.2},
  {"x": 3.0, "b": 0.3, "c": 1.6, "d": 3.0}, {"x": 3.05, "b": 0.5, "c": 1.4, "d": 2.8}, {"x": 3.1, "b": 0.2, "c": 1.5, "d": 2.6}, {"x": 3.15, "b": 0.6, "c": 1.2, "d": 2.5}, {"x": 3.2, "b": 0.3, "c": 1.3, "d": 2.3},
  {"x": 3.25, "b": 0.5, "c": 1.1, "d": 2.4}, {"x": 3.3, "b": 0.1, "c": 1.0, "d": 2.1}, {"x": 3.35, "b": 0.4, "c": 1.1, "d": 2.0}, {"x": 3.4, "b": 0.2, "c": 0.8, "d": 1.9}, {"x": 3.45, "b": 0.5, "c": 0.9, "d": 2.0},
  {"x": 3.5, "b": 0.0, "c": 0.7, "d": 1.8}, {"x": 3.55, "b": 0.4, "c": 0.8, "d": 1.6}, {"x": 3.6, "b": 0.2, "c": 0.6, "d": 1.7}, {"x": 3.65, "b": 0.5, "c": 0.7, "d": 1.5}, {"x": 3.7, "b": 0.1, "c": 0.5, "d": 1.4},
  {"x": 3.75, "b": 0.3, "c": 0.6, "d": 1.5}, {"x": 3.8, "b": 0.6, "c": 0.4, "d": 1.3}, {"x": 3.85, "b": 0.2, "c": 0.6, "d": 1.2}, {"x": 3.9, "b": 0.4, "c": 0.3, "d": 1.3}, {"x": 3.95, "b": 0.0, "c": 0.5, "d": 1.1},
  {"x": 4.0, "b": 0.3, "c": 0.4, "d": 1.2}, {"x": 4.05, "b": 0.5, "c": 0.2, "d": 1.0}, {"x": 4.1, "b": 0.9, "c": 1.0, "d": 1.4}, {"x": 4.15, "b": 0.3, "c": 0.5, "d": 1.1}, {"x": 4.2, "b": 0.1, "c": 0.3, "d": 0.9},
  {"x": 4.25, "b": 0.4, "c": 0.6, "d": 1.0}, {"x": 4.3, "b": 0.2, "c": 0.2, "d": 0.8}, {"x": 4.35, "b": 0.5, "c": 0.5, "d": 0.9}, {"x": 4.4, "b": 0.0, "c": 0.3, "d": 0.7}, {"x": 4.45, "b": 0.3, "c": 0.6, "d": 0.9},
  {"x": 4.5, "b": 0.1, "c": 0.2, "d": 0.8}, {"x": 4.55, "b": 0.4, "c": 0.4, "d": 0.6}, {"x": 4.6, "b": 0.2, "c": 0.6, "d": 0.8}, {"x": 4.65, "b": 0.5, "c": 0.3, "d": 0.5}, {"x": 4.7, "b": 0.1, "c": 0.5, "d": 0.7},
  {"x": 4.75, "b": 0.4, "c": 0.4, "d": 0.6}, {"x": 4.8, "b": 0.3, "c": 0.6, "d": 0.8}, {"x": 4.85, "b": 0.6, "c": 0.9, "d": 1.1}, {"x": 4.9, "b": 1.2, "c": 1.6, "d": 1.9}, {"x": 4.95, "b": 1.8, "c": 2.2, "d": 2.6},
  {"x": 5.0, "b": 1.2, "c": 1.8, "d": 2.0}, {"x": 5.05, "b": 0.6, "c": 0.9, "d": 1.1}, {"x": 5.1, "b": 0.3, "c": 0.5, "d": 0.6}, {"x": 5.15, "b": 0.5, "c": 0.2, "d": 0.4}, {"x": 5.2, "b": 0.1, "c": 0.5, "d": 0.7},
  {"x": 5.25, "b": 0.4, "c": 0.3, "d": 0.2}, {"x": 5.3, "b": 0.2, "c": 0.6, "d": 0.5}, {"x": 5.35, "b": 0.5, "c": 0.1, "d": 0.3}, {"x": 5.4, "b": 0.0, "c": 0.4, "d": 0.6}, {"x": 5.45, "b": 0.3, "c": 0.2, "d": 0.1},
  {"x": 5.5, "b": 0.1, "c": 0.5, "d": 0.4}, {"x": 5.55, "b": 0.4, "c": 0.0, "d": 0.2}, {"x": 5.6, "b": 0.2, "c": 0.3, "d": 0.5}, {"x": 5.65, "b": 0.5, "c": 0.1, "d": 0.0}, {"x": 5.7, "b": 0.0, "c": 0.4, "d": 0.3},
  {"x": 5.75, "b": 0.3, "c": 0.2, "d": 0.5}, {"x": 5.8, "b": 0.1, "c": 0.5, "d": 0.1}, {"x": 5.85, "b": 0.4, "c": 0.0, "d": 0.3}, {"x": 5.9, "b": -0.1, "c": 0.3, "d": 0.0}, {"x": 5.95, "b": 0.2, "c": 0.1, "d": 0.2},
  {"x": 6.0, "b": 0.0, "c": 0.2, "d": -0.1}
 ]
}
}
